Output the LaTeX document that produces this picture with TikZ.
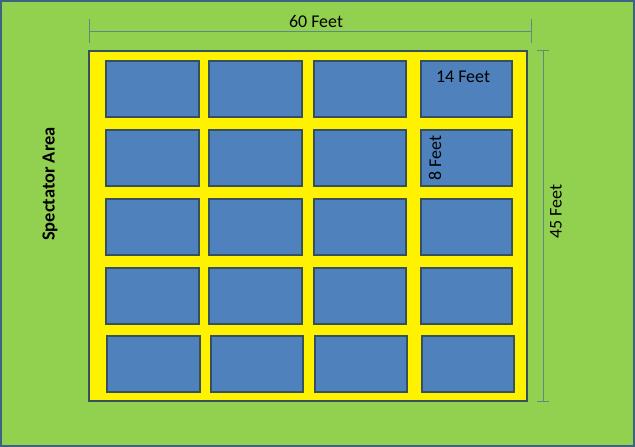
\documentclass[tikz,border=0pt]{standalone}
\usepackage{fontspec}
\setmainfont{Carlito}
\definecolor{fieldgreen}{HTML}{92D050}
\definecolor{courtblue}{HTML}{4F81BD}
\definecolor{edgeblue}{HTML}{3E6382}
\definecolor{tileedge}{HTML}{36505E}
\definecolor{dimline}{HTML}{5A8C86}
\begin{document}
\begin{tikzpicture}[x=1bp,y=-1bp,
  tile/.style={fill=courtblue,draw=tileedge,line width=1.3bp},
  dimstroke/.style={draw=dimline,line width=1bp},
  lbl/.style={font=\fontsize{18}{18}\selectfont,inner sep=0pt}]
\useasboundingbox (0,0) rectangle (635,447);
\fill[fieldgreen,draw=edgeblue,line width=1.5bp] (1,1) rectangle (634,446);
\fill[yellow,draw=tileedge,line width=1.2bp] (89,51) rectangle (527,401);
% tiles rows 1-4
\foreach \y in {61,130,199,268}{
  \draw[tile] (106,\y) rectangle (199,\y+56);
  \draw[tile] (209,\y) rectangle (302,\y+56);
  \draw[tile] (314,\y) rectangle (406,\y+56);
  \draw[tile] (421,\y) rectangle (512,\y+56);
}
% bottom row
\draw[tile] (107,336) rectangle (200,392);
\draw[tile] (211,336) rectangle (303,392);
\draw[tile] (315,336) rectangle (407,392);
\draw[tile] (422,336) rectangle (514,392);
% top dimension
\coordinate (tl) at (89,32);
\coordinate (tr) at (531,32);
\draw[dimstroke] (tl) -- (tr);
\draw[dimstroke] (89,19) -- (89,43);
\draw[dimstroke] (531,19) -- (531,43);
% right dimension
\coordinate (rt) at (543,51);
\coordinate (rb) at (543,401);
\draw[dimstroke] (rt) -- (rb);
\draw[dimstroke] (537,51) -- (549,51);
\draw[dimstroke] (537,401) -- (549,401);
% labels
\node[lbl] (w) at (316,22) {60 Feet};
\node[lbl] (h) at (556,212) [rotate=90] {45 Feet};
\node[lbl] (tw) at (463,77) {14 Feet};
\node[lbl] (th) at (435,158) [rotate=90] {8 Feet};
\node[lbl,font=\fontsize{18.5}{18.5}\selectfont\bfseries] (sp) at (50,184) [rotate=90] {Spectator Area};
\end{tikzpicture}
\end{document}
